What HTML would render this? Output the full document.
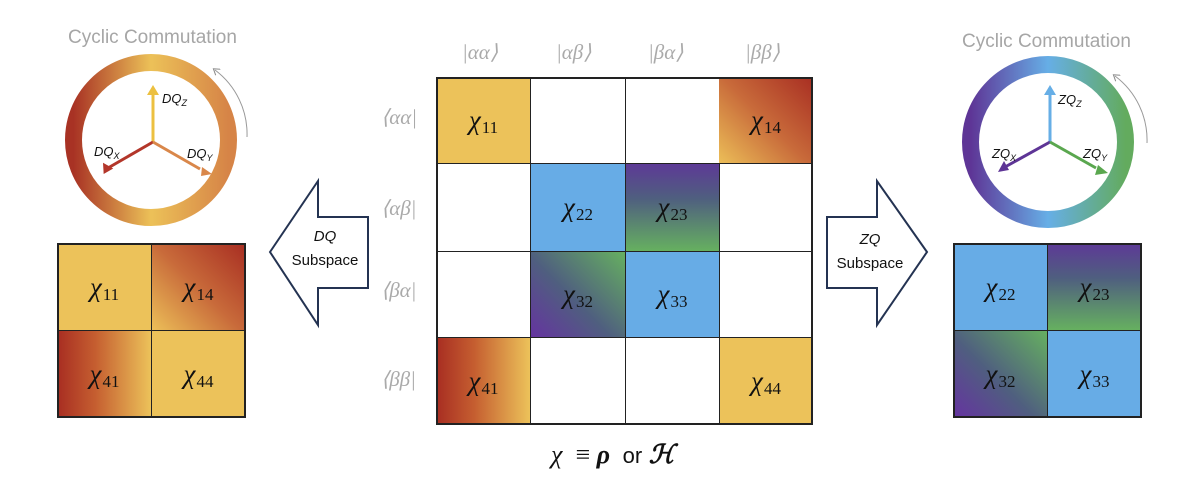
<!DOCTYPE html>
<html><head><meta charset="utf-8"><style>
body{margin:0;width:1182px;height:488px;background:#fff;position:relative;overflow:hidden;font-family:"Liberation Sans",sans-serif}
.c{position:absolute;box-sizing:border-box;display:flex;align-items:center;justify-content:center;font-family:"Liberation Serif",serif;color:#111}
.c i{font-size:27px}
.c sub{font-size:17px;vertical-align:-4px;font-style:normal;margin-left:1px;line-height:1}
.y{background:#ecc25a}.b{background:#67ace6}
.g14{background:linear-gradient(225deg,#a82e22 0%,#c86a3a 50%,#ecbf58 100%)}
.g41{background:linear-gradient(90deg,#a82e22 0%,#c55e30 40%,#ecc25a 100%)}
.g23{background:linear-gradient(180deg,#5d3a96 0%,#4f5f7f 40%,#66b060 100%)}
.g32{background:linear-gradient(45deg,#6534a0 0%,#4f5f7f 45%,#66b060 100%)}
.lab{position:absolute;color:#aaa;font-family:"Liberation Serif",serif;font-size:21px;font-style:italic}
.t{position:absolute;color:#a6a6a6;font-size:19px}
</style></head><body>
<div class="t" style="left:68px;top:27px">Cyclic Commutation</div>
<div class="t" style="left:962px;top:31px">Cyclic Commutation</div>
<svg width="1182" height="488" style="position:absolute;left:0;top:0">
<defs>
<linearGradient id="rl" x1="0" x2="1" y1="0" y2="0"><stop offset="0" stop-color="#a83224"/><stop offset=".5" stop-color="#ecc158"/><stop offset="1" stop-color="#d68447"/></linearGradient>
<linearGradient id="rr" x1="0" x2="1" y1="0" y2="0"><stop offset="0" stop-color="#5e3596"/><stop offset=".5" stop-color="#66aee6"/><stop offset="1" stop-color="#63ab5e"/></linearGradient>
<marker id="ga" markerWidth="8" markerHeight="8" refX="4" refY="4" orient="auto" markerUnits="userSpaceOnUse"><path d="M0,0L6,4L0,8" fill="none" stroke="#888" stroke-width="1"/></marker>
</defs>
<circle cx="151" cy="140" r="77.5" fill="none" stroke="url(#rl)" stroke-width="17"/>
<circle cx="1048" cy="142" r="77.5" fill="none" stroke="url(#rr)" stroke-width="17"/>
<path d="M247,137 A80,80 0 0 0 215,70" fill="none" stroke="#999" stroke-width="1" marker-end="url(#ga)"/>
<path d="M1147,143 A80,80 0 0 0 1115,76" fill="none" stroke="#999" stroke-width="1" marker-end="url(#ga)"/>
<g stroke-width="3">
<line x1="153" y1="142" x2="153" y2="94" stroke="#ecc040"/><path d="M147,95L153,85L159,95z" fill="#ecc040"/>
<line x1="153" y1="142" x2="108" y2="168" stroke="#b3362a"/><path d="M101,172L106,162L112,172z" fill="#b3362a" transform="rotate(-30 106 168)"/>
<line x1="153" y1="142" x2="200" y2="169" stroke="#d9874a"/><path d="M202,167L212,174L201,176z" fill="#d9874a"/>
<line x1="1050" y1="142" x2="1050" y2="94" stroke="#66aee6"/><path d="M1044,95L1050,85L1056,95z" fill="#66aee6"/>
<line x1="1050" y1="142" x2="1005" y2="167" stroke="#5e3596"/><path d="M998,172L1004,161L1009,170z" fill="#5e3596"/>
<line x1="1050" y1="142" x2="1096" y2="168" stroke="#5aa74f"/><path d="M1098,165L1108,173L1095,175z" fill="#5aa74f"/>
</g>
<g font-family="Liberation Sans" font-style="italic" font-size="13" fill="#111">
<text x="162" y="103">DQ<tspan font-size="9" dy="3">Z</tspan></text>
<text x="94" y="156">DQ<tspan font-size="9" dy="3">X</tspan></text>
<text x="187" y="158">DQ<tspan font-size="9" dy="3">Y</tspan></text>
<text x="1058" y="104">ZQ<tspan font-size="9" dy="3">Z</tspan></text>
<text x="992" y="158">ZQ<tspan font-size="9" dy="3">X</tspan></text>
<text x="1083" y="158">ZQ<tspan font-size="9" dy="3">Y</tspan></text>
</g>
<path d="M270,252L318,181L318,217L368,217L368,288L318,288L318,325Z" fill="#fff" stroke="#243352" stroke-width="2"/>
<path d="M927,252L877,181L877,217L827,217L827,288L877,288L877,325Z" fill="#fff" stroke="#243352" stroke-width="2"/>
<g font-family="Liberation Sans" font-size="15" fill="#111" text-anchor="middle">
<text x="325" y="241" font-style="italic">DQ</text><text x="325" y="265">Subspace</text>
<text x="870" y="244" font-style="italic">ZQ</text><text x="870" y="268">Subspace</text>
</g>
</svg>
<div class="c y" style="left:436px;top:77px;width:95px;height:87px"><span><i>χ</i><sub>11</sub></span></div>
<div class="c" style="left:530px;top:77px;width:96px;height:87px;border:1px solid #222"></div>
<div class="c" style="left:625px;top:77px;width:95px;height:87px;border:1px solid #222"></div>
<div class="c g14" style="left:719px;top:77px;width:94px;height:87px"><span><i>χ</i><sub>14</sub></span></div>
<div class="c" style="left:436px;top:163px;width:95px;height:89px;border:1px solid #222"></div>
<div class="c b" style="left:530px;top:163px;width:96px;height:89px;border:1px solid #222"><span><i>χ</i><sub>22</sub></span></div>
<div class="c g23" style="left:625px;top:163px;width:95px;height:89px;border:1px solid #222"><span><i>χ</i><sub>23</sub></span></div>
<div class="c" style="left:719px;top:163px;width:94px;height:89px;border:1px solid #222"></div>
<div class="c" style="left:436px;top:251px;width:95px;height:87px;border:1px solid #222"></div>
<div class="c g32" style="left:530px;top:251px;width:96px;height:87px;border:1px solid #222"><span><i>χ</i><sub>32</sub></span></div>
<div class="c b" style="left:625px;top:251px;width:95px;height:87px;border:1px solid #222"><span><i>χ</i><sub>33</sub></span></div>
<div class="c" style="left:719px;top:251px;width:94px;height:87px;border:1px solid #222"></div>
<div class="c g41" style="left:436px;top:337px;width:95px;height:88px;border:1px solid #222"><span><i>χ</i><sub>41</sub></span></div>
<div class="c" style="left:530px;top:337px;width:96px;height:88px;border:1px solid #222"></div>
<div class="c" style="left:625px;top:337px;width:95px;height:88px;border:1px solid #222"></div>
<div class="c y" style="left:719px;top:337px;width:94px;height:88px;border:1px solid #222"><span><i>χ</i><sub>44</sub></span></div>
<div style="position:absolute;left:436px;top:77px;width:377px;height:348px;border:2px solid #222;box-sizing:border-box"></div>
<div class="lab" style="left:462px;top:40px">|αα⟩</div>
<div class="lab" style="left:556px;top:40px">|αβ⟩</div>
<div class="lab" style="left:648px;top:40px">|βα⟩</div>
<div class="lab" style="left:745px;top:40px">|ββ⟩</div>
<div class="lab" style="left:381px;top:105px">⟨αα|</div>
<div class="lab" style="left:381px;top:196px">⟨αβ|</div>
<div class="lab" style="left:381px;top:278px">⟨βα|</div>
<div class="lab" style="left:381px;top:367px">⟨ββ|</div>
<div style="position:absolute;left:551px;top:440px;font-family:'Liberation Serif',serif;font-size:26px;color:#111"><i>χ</i> &nbsp;≡ <b><i>ρ</i></b> <span style="font-family:'Liberation Sans';font-size:22px">&nbsp;or</span> <b><i>ℋ</i></b></div>
<div class="c y" style="left:57px;top:243px;width:95px;height:88px;border:1px solid #222"><span><i>χ</i><sub>11</sub></span></div>
<div class="c g14" style="left:151px;top:243px;width:95px;height:88px;border:1px solid #222"><span><i>χ</i><sub>14</sub></span></div>
<div class="c g41" style="left:57px;top:330px;width:95px;height:88px;border:1px solid #222"><span><i>χ</i><sub>41</sub></span></div>
<div class="c y" style="left:151px;top:330px;width:95px;height:88px;border:1px solid #222"><span><i>χ</i><sub>44</sub></span></div>
<div style="position:absolute;left:57px;top:243px;width:189px;height:175px;border:2px solid #222;box-sizing:border-box"></div>
<div class="c b" style="left:953px;top:243px;width:95px;height:88px;border:1px solid #222"><span><i>χ</i><sub>22</sub></span></div>
<div class="c g23" style="left:1047px;top:243px;width:95px;height:88px;border:1px solid #222"><span><i>χ</i><sub>23</sub></span></div>
<div class="c g32" style="left:953px;top:330px;width:95px;height:88px;border:1px solid #222"><span><i>χ</i><sub>32</sub></span></div>
<div class="c b" style="left:1047px;top:330px;width:95px;height:88px;border:1px solid #222"><span><i>χ</i><sub>33</sub></span></div>
<div style="position:absolute;left:953px;top:243px;width:189px;height:175px;border:2px solid #222;box-sizing:border-box"></div>
</body></html>
